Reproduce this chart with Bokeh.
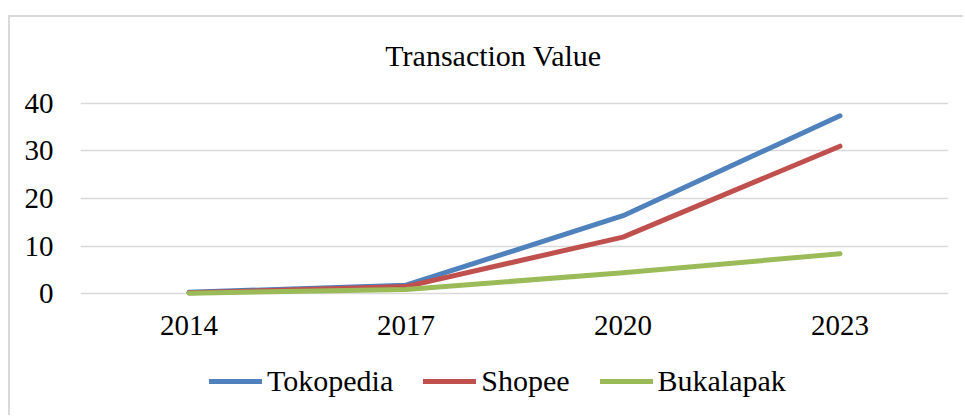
from bokeh.plotting import figure
from bokeh.layouts import column
from bokeh.models import Range1d, FactorRange, Legend, LegendItem, Label
from bokeh.embed import file_html
from bokeh.resources import INLINE

years = ["2014", "2017", "2020", "2023"]
tokopedia = [0.3, 1.8, 16.4, 37.4]
shopee = [0.2, 1.5, 11.9, 31.0]
bukalapak = [0.1, 0.9, 4.4, 8.4]
series_names = ["Tokopedia", "Shopee", "Bukalapak"]
colors = ["#4f81bd", "#c0504d", "#9bbb59"]
y_ticks = [0, 10, 20, 30, 40]
title_text = "Transaction Value"

FONT = "Liberation Serif"
BORDER = "2px solid #d9d9d9"

# main chart
p = figure(width=955, height=333, x_range=FactorRange(*years, range_padding=0),
           y_range=Range1d(-1, 53), output_backend="svg", toolbar_location=None,
           min_border_left=70, min_border_right=17, min_border_top=24, min_border_bottom=52,
           margin=(15, 0, 0, 8))
p.styles = {"border-top": BORDER, "border-left": BORDER}
p.outline_line_color = None
p.background_fill_color = "white"
p.border_fill_color = "white"

p.xgrid.grid_line_color = None
p.ygrid.grid_line_color = "#d9d9d9"
p.ygrid.grid_line_width = 1.5
p.yaxis.ticker = y_ticks

for ax in (p.xaxis[0], p.yaxis[0]):
    ax.axis_line_color = None
    ax.major_tick_line_color = None
    ax.minor_tick_line_color = None
    ax.major_label_text_font = FONT
    ax.major_label_text_font_size = "29px"
    ax.major_label_text_color = "black"
p.yaxis.major_label_standoff = 21
p.xaxis.major_label_standoff = 11

for name, vals, c in zip(series_names, [tokopedia, shopee, bukalapak], colors):
    p.line(years, vals, line_color=c, line_width=5, line_cap="round", line_join="round")

p.add_layout(Label(x=413, y=50, x_units="screen", y_units="data", text=title_text,
                   text_font=FONT, text_font_size="30px", text_align="center",
                   text_baseline="middle", text_color="black"))

# legend strip
q = figure(width=955, height=67, x_range=Range1d(0, 1), y_range=Range1d(0, 1),
           output_backend="svg", toolbar_location=None,
           x_axis_location=None, y_axis_location=None,
           min_border_left=0, min_border_right=0, min_border_top=0, min_border_bottom=0,
           margin=(0, 0, 0, 8))
q.styles = {"border-left": BORDER}
q.outline_line_color = None
q.grid.grid_line_color = None
q.background_fill_color = "white"
q.border_fill_color = "white"

nan = float("nan")
items = []
for name, c in zip(series_names, colors):
    r = q.line([nan], [nan], line_color=c, line_width=5, line_cap="round")
    items.append(LegendItem(label=name, renderers=[r]))

legend = Legend(items=items, orientation="horizontal", location=(129, 17))
legend.label_text_font = FONT
legend.label_text_font_size = "30px"
legend.label_text_color = "black"
legend.glyph_width = 53
legend.glyph_height = 30
legend.label_height = 30
legend.label_standoff = 5
legend.spacing = 30
legend.padding = 0
legend.margin = 0
legend.border_line_color = None
legend.background_fill_alpha = 0
q.add_layout(legend, "center")

layout = column(p, q, spacing=0)
open("out.html", "w").write(file_html(layout, INLINE))
